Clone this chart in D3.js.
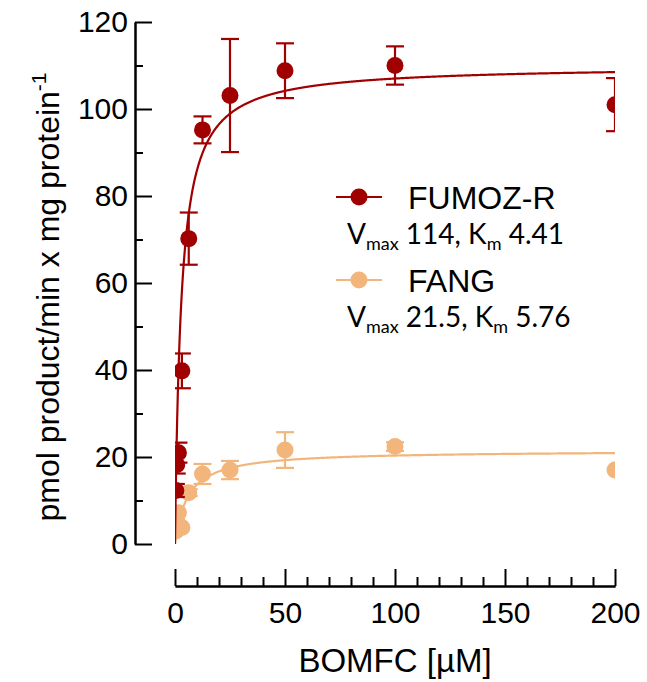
<!DOCTYPE html>
<html>
<head>
<meta charset="utf-8">
<script src="https://d3js.org/d3.v7.min.js"></script>
<style>
  body { margin: 0; background: #fff; }
  .axis text { font-family: "Liberation Sans", Arial, sans-serif; font-size: 30px; fill: #000; }
  .axis path, .axis line { stroke: #000; stroke-width: 2px; }
</style>
</head>
<body>
<div id="chart"></div>
<script>
// substrate concentrations (BOMFC, uM)
var conc = [0.390625, 0.78125, 1.5625, 3.125, 6.25, 12.5, 25, 50, 100, 200];

// FUMOZ-R mean and error
var fumozMean = [12.3, 18.2, 21.0, 39.8, 70.2, 95.2, 103.1, 108.8, 110.0, 101.0];
var fumozErr  = [1.5, 2.0, 2.3, 4.0, 6.0, 3.1, 13.0, 6.3, 4.4, 6.1];

// FANG mean and error
var fangMean = [3.0, 5.2, 7.2, 3.8, 11.8, 16.1, 17.0, 21.6, 22.4, 17.0];
var fangErr  = [0, 0, 0, 0, 0.8, 2.3, 2.1, 4.1, 1.0, 0];

// fitted Michaelis-Menten curves as drawn [Vmax, Km]
var fumozFit = [110, 2.8];
var fangFit  = [21.5, 5.76];

var xTicks = [0, 50, 100, 150, 200];
var yTicks = [0, 20, 40, 60, 80, 100, 120];

var red = '#a00000', orange = '#f2b67c';

var W = 647, H = 682;
var svg = d3.select('#chart').append('svg').attr('width', W).attr('height', H);

var x = d3.scaleLinear().domain([0, 200]).range([175, 615]);
var y = d3.scaleLinear().domain([0, 120]).range([544, 22]);

// y axis, ticks pointing inward
var yMinor = d3.range(10, 120, 20);
svg.append('g').attr('class', 'axis').attr('transform', 'translate(135,0)')
    .call(d3.axisLeft(y).tickValues(yMinor).tickSize(-8).tickSizeOuter(0).tickFormat(''));
svg.append('g').attr('class', 'axis').attr('transform', 'translate(135,0)')
    .call(d3.axisLeft(y).tickValues(yTicks).tickSize(-17).tickSizeOuter(0).tickPadding(7));

// x axis
var xMinor = d3.range(10, 200, 10).filter(function(d) { return d % 50 !== 0; });
svg.append('g').attr('class', 'axis').attr('transform', 'translate(0,586)')
    .call(d3.axisBottom(x).tickValues(xMinor).tickSize(-9).tickSizeOuter(0).tickFormat(''));
svg.append('g').attr('class', 'axis').attr('transform', 'translate(0,586)')
    .call(d3.axisBottom(x).tickValues(xTicks).tickSize(-17).tickSizeOuter(0).tickPadding(16));

// axis titles
svg.append('text')
    .attr('x', 395).attr('y', 672)
    .attr('text-anchor', 'middle')
    .style('font-family', '"Liberation Sans", Arial, sans-serif')
    .style('font-size', '33px')
    .text('BOMFC [\u00b5M]');

var yt = svg.append('text')
    .attr('transform', 'translate(59,297) rotate(-90)')
    .attr('text-anchor', 'middle')
    .style('font-family', '"Liberation Sans", Arial, sans-serif')
    .style('font-size', '32px');
yt.append('tspan').text('pmol product/min x mg protein');
yt.append('tspan').attr('dy', -13).style('font-size', '21px').text('-1');

// clip to plot area
svg.append('clipPath').attr('id', 'plotclip').append('rect')
    .attr('x', x(0)).attr('y', y(120))
    .attr('width', x(200) - x(0)).attr('height', y(0) - y(120));

var plot = svg.append('g').attr('clip-path', 'url(#plotclip)');

var curveX = d3.range(0, 200.5, 0.25);
function mm(p) { return function(s) { return p[0] * s / (p[1] + s); }; }

var line = d3.line().x(function(d) { return x(d[0]); }).y(function(d) { return y(d[1]); });

function drawSeries(mean, err, fit, color) {
  var f = mm(fit);
  plot.append('path')
      .datum(curveX.map(function(s) { return [s, f(s)]; }))
      .attr('d', line)
      .attr('fill', 'none')
      .attr('stroke', color)
      .attr('stroke-width', 2.2);

  var pts = conc.map(function(c, i) { return { c: c, m: mean[i], e: err[i] }; });
  var eb = plot.append('g').attr('stroke', color).attr('stroke-width', 2.2);
  pts.filter(function(d) { return d.e > 0; }).forEach(function(d) {
    eb.append('line').attr('x1', x(d.c)).attr('x2', x(d.c))
        .attr('y1', y(d.m - d.e)).attr('y2', y(d.m + d.e));
    [d.m - d.e, d.m + d.e].forEach(function(v) {
      eb.append('line').attr('x1', x(d.c) - 9).attr('x2', x(d.c) + 9)
          .attr('y1', y(v)).attr('y2', y(v));
    });
  });

  plot.append('g').selectAll('circle')
      .data(pts)
      .enter().append('circle')
      .attr('cx', function(d) { return x(d.c); })
      .attr('cy', function(d) { return y(d.m); })
      .attr('r', 8.5)
      .attr('fill', color);
}

drawSeries(fangMean, fangErr, fangFit, orange);
drawSeries(fumozMean, fumozErr, fumozFit, red);

// legend
var legend = [
  { name: 'FUMOZ-R', color: red, v: '114', k: '4.41', y: 197 },
  { name: 'FANG', color: orange, v: '21.5', k: '5.76', y: 280 }
];
legend.forEach(function(l) {
  svg.append('line').attr('x1', 336).attr('x2', 382).attr('y1', l.y).attr('y2', l.y)
      .attr('stroke', l.color).attr('stroke-width', 2.2);
  svg.append('circle').attr('cx', 359).attr('cy', l.y).attr('r', 8.5).attr('fill', l.color);
  svg.append('text').attr('x', 408).attr('y', l.y + 12)
      .style('font-family', '"Liberation Sans", Arial, sans-serif')
      .style('font-size', '32px')
      .text(l.name);
  var t = svg.append('text').attr('x', 347).attr('y', l.y + 47)
      .style('font-family', 'Lato, "Open Sans", sans-serif')
      .style('font-size', '28px');
  t.append('tspan').text('V');
  t.append('tspan').attr('dy', 6).style('font-size', '18px').text('max');
  t.append('tspan').attr('dy', -6).text(' ' + l.v + ', K');
  t.append('tspan').attr('dy', 6).style('font-size', '18px').text('m');
  t.append('tspan').attr('dy', -6).text(' ' + l.k);
});
</script>
</body>
</html>
